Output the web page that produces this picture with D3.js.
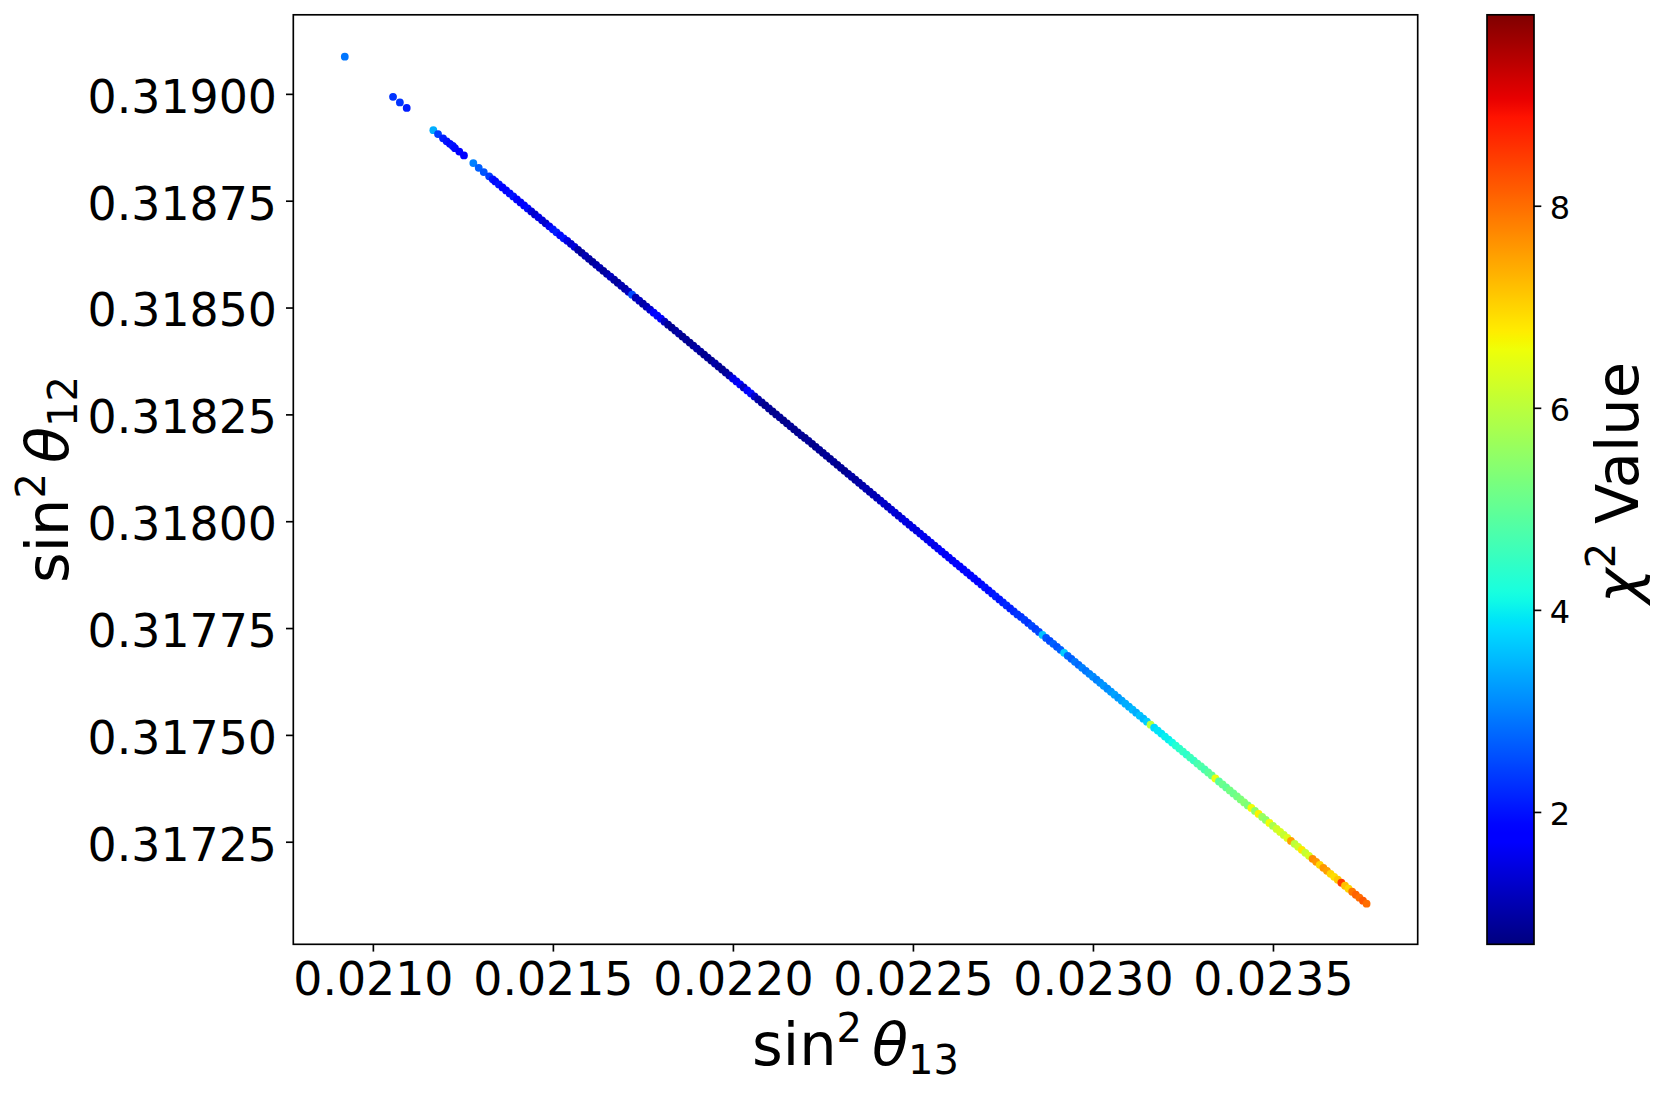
<!DOCTYPE html>
<html>
<meta charset="utf-8">
<head>
<title>chi2 scan</title>
<script src="https://d3js.org/d3.v7.min.js"></script>
<style>
body { margin: 0; background: #fff; }
text { font-family: "DejaVu Sans", sans-serif; }
</style>
</head>
<body>
<div id="plot"></div>
<script>

// values
var x13 = [
0.020922, 0.021056, 0.021075, 0.021094, 0.021168, 0.021181, 0.021195, 0.021205, 0.021214,
0.021222, 0.021228, 0.021240, 0.021253, 0.021279, 0.021294, 0.021308, 0.021323, 0.021333,
0.02134, 0.02135, 0.02136, 0.02137, 0.02138, 0.02139,
0.02140, 0.02141, 0.02142, 0.02143, 0.02144, 0.02145, 0.02146, 0.02147, 0.02148, 0.02149,
0.02150, 0.02151, 0.02152, 0.02153, 0.02154, 0.02155, 0.02156, 0.02157, 0.02158, 0.02159,
0.02160, 0.02161, 0.02162, 0.02163, 0.02164, 0.02165, 0.02166, 0.02167, 0.02168, 0.02169,
0.02170, 0.02171, 0.02172, 0.02173, 0.02174, 0.02175, 0.02176, 0.02177, 0.02178, 0.02179,
0.02180, 0.02181, 0.02182, 0.02183, 0.02184, 0.02185, 0.02186, 0.02187, 0.02188, 0.02189,
0.02190, 0.02191, 0.02192, 0.02193, 0.02194, 0.02195, 0.02196, 0.02197, 0.02198, 0.02199,
0.02200, 0.02201, 0.02202, 0.02203, 0.02204, 0.02205, 0.02206, 0.02207, 0.02208, 0.02209,
0.02210, 0.02211, 0.02212, 0.02213, 0.02214, 0.02215, 0.02216, 0.02217, 0.02218, 0.02219,
0.02220, 0.02221, 0.02222, 0.02223, 0.02224, 0.02225, 0.02226, 0.02227, 0.02228, 0.02229,
0.02230, 0.02231, 0.02232, 0.02233, 0.02234, 0.02235, 0.02236, 0.02237, 0.02238, 0.02239,
0.02240, 0.02241, 0.02242, 0.02243, 0.02244, 0.02245, 0.02246, 0.02247, 0.02248, 0.02249,
0.02250, 0.02251, 0.02252, 0.02253, 0.02254, 0.02255, 0.02256, 0.02257, 0.02258, 0.02259,
0.02260, 0.02261, 0.02262, 0.02263, 0.02264, 0.02265, 0.02266, 0.02267, 0.02268, 0.02269,
0.02270, 0.02271, 0.02272, 0.02273, 0.02274, 0.02275, 0.02276, 0.02277, 0.02278, 0.02279,
0.02280, 0.02281, 0.02282, 0.02283, 0.02284, 0.02285, 0.02286, 0.02287, 0.02288, 0.02289,
0.02290, 0.02291, 0.02292, 0.02293, 0.02294, 0.02295, 0.02296, 0.02297, 0.02298, 0.02299,
0.02300, 0.02301, 0.02302, 0.02303, 0.02304, 0.02305, 0.02306, 0.02307, 0.02308, 0.02309,
0.02310, 0.02311, 0.02312, 0.02313, 0.02314, 0.02315, 0.02316, 0.02317, 0.02318, 0.02319,
0.02320, 0.02321, 0.02322, 0.02323, 0.02324, 0.02325, 0.02326, 0.02327, 0.02328, 0.02329,
0.02330, 0.02331, 0.02332, 0.02333, 0.02334, 0.02335, 0.02336, 0.02337, 0.02338, 0.02339,
0.02340, 0.02341, 0.02342, 0.02343, 0.02344, 0.02345, 0.02346, 0.02347, 0.02348, 0.02349,
0.02350, 0.02351, 0.02352, 0.02353, 0.02354, 0.02355, 0.02356, 0.02357, 0.02358, 0.02359,
0.02360, 0.02361, 0.02362, 0.02363, 0.02364, 0.02365, 0.02366, 0.02367, 0.02368, 0.02369,
0.02370, 0.02371, 0.02372, 0.02373, 0.02374, 0.02375, 0.02376
];

var y12 = [
0.319087, 0.318993, 0.318980, 0.318967, 0.318915, 0.318906, 0.318896, 0.318889, 0.318883,
0.318878, 0.318873, 0.318865, 0.318856, 0.318838, 0.318827, 0.318817, 0.318807, 0.318800,
0.318795, 0.318788, 0.318781, 0.318774, 0.318767, 0.318760,
0.318753, 0.318746, 0.318739, 0.318732, 0.318725, 0.318718, 0.318711, 0.318704, 0.318697, 0.318690,
0.318683, 0.318676, 0.318669, 0.318662, 0.318656, 0.318649, 0.318642, 0.318635, 0.318628, 0.318621,
0.318614, 0.318607, 0.318600, 0.318593, 0.318586, 0.318579, 0.318572, 0.318565, 0.318558, 0.318551,
0.318544, 0.318537, 0.318530, 0.318523, 0.318516, 0.318509, 0.318502, 0.318495, 0.318488, 0.318481,
0.318474, 0.318467, 0.318460, 0.318453, 0.318446, 0.318439, 0.318432, 0.318425, 0.318418, 0.318411,
0.318404, 0.318397, 0.318390, 0.318383, 0.318376, 0.318369, 0.318362, 0.318355, 0.318348, 0.318341,
0.318334, 0.318327, 0.318320, 0.318313, 0.318306, 0.318299, 0.318292, 0.318285, 0.318278, 0.318271,
0.318264, 0.318257, 0.318250, 0.318243, 0.318236, 0.318229, 0.318222, 0.318215, 0.318208, 0.318201,
0.318195, 0.318188, 0.318181, 0.318174, 0.318167, 0.318160, 0.318153, 0.318146, 0.318139, 0.318132,
0.318125, 0.318118, 0.318111, 0.318104, 0.318097, 0.318090, 0.318083, 0.318076, 0.318069, 0.318062,
0.318055, 0.318048, 0.318041, 0.318034, 0.318027, 0.318020, 0.318013, 0.318006, 0.317999, 0.317992,
0.317985, 0.317978, 0.317971, 0.317964, 0.317957, 0.317950, 0.317943, 0.317936, 0.317929, 0.317922,
0.317915, 0.317908, 0.317901, 0.317894, 0.317887, 0.317880, 0.317873, 0.317866, 0.317859, 0.317852,
0.317845, 0.317838, 0.317831, 0.317824, 0.317817, 0.317810, 0.317803, 0.317796, 0.317789, 0.317782,
0.317776, 0.317769, 0.317762, 0.317755, 0.317748, 0.317741, 0.317734, 0.317727, 0.317720, 0.317713,
0.317706, 0.317699, 0.317692, 0.317685, 0.317678, 0.317671, 0.317664, 0.317657, 0.317650, 0.317643,
0.317636, 0.317629, 0.317622, 0.317615, 0.317608, 0.317601, 0.317594, 0.317587, 0.317580, 0.317573,
0.317566, 0.317559, 0.317552, 0.317545, 0.317538, 0.317531, 0.317524, 0.317517, 0.317510, 0.317503,
0.317496, 0.317489, 0.317482, 0.317475, 0.317468, 0.317461, 0.317454, 0.317447, 0.317440, 0.317433,
0.317426, 0.317419, 0.317412, 0.317405, 0.317398, 0.317391, 0.317384, 0.317377, 0.317370, 0.317363,
0.317356, 0.317349, 0.317342, 0.317335, 0.317329, 0.317322, 0.317315, 0.317308, 0.317301, 0.317294,
0.317287, 0.317280, 0.317273, 0.317266, 0.317259, 0.317252, 0.317245, 0.317238, 0.317231, 0.317224,
0.317217, 0.317210, 0.317203, 0.317196, 0.317189, 0.317182, 0.317175, 0.317168, 0.317161, 0.317154,
0.317147, 0.317140, 0.317133, 0.317126, 0.317119, 0.317112, 0.317105
];

var chi2 = [
2.9, 2.3, 2.3, 2.1, 3.4, 2.4, 2.1, 2.0, 1.9,
2.0, 1.9, 1.8, 1.7, 3.0, 2.7, 2.6, 2.4, 2.0,
1.9, 2.0, 1.8, 1.7, 1.9, 2.0,
1.7, 1.6, 1.8, 1.9, 1.4, 1.3, 1.5, 1.4, 1.3, 1.6,
2.0, 2.1, 1.9, 2.0, 1.5, 1.3, 1.4, 1.0, 0.9, 1.1,
1.0, 0.9, 1.0, 1.1, 0.9, 1.0, 1.2, 1.0, 0.9, 1.1,
1.0, 1.2, 2.5, 1.1, 1.2, 1.0, 1.1, 1.3, 1.8, 1.9,
1.7, 1.2, 0.9, 0.8, 0.9, 1.0, 0.8, 0.9, 0.8, 0.9,
1.0, 0.9, 0.8, 0.9, 0.8, 1.0, 0.9, 0.8, 0.9, 1.0,
1.5, 1.6, 1.8, 1.2, 1.7, 1.9, 1.3, 1.0, 0.9, 0.8,
0.9, 0.8, 0.8, 0.9, 0.8, 0.8, 0.9, 0.8, 0.8, 0.9,
0.8, 0.9, 0.8, 0.8, 0.9, 0.8, 0.9, 0.8, 0.9, 0.8,
0.9, 0.8, 0.9, 1.0, 0.9, 1.0, 1.0, 1.1, 1.0, 1.1,
1.1, 1.2, 1.3, 1.2, 1.3, 1.4, 1.3, 1.4, 1.5, 1.4,
1.5, 1.4, 1.5, 1.6, 1.5, 1.6, 1.5, 1.6, 1.7, 1.6,
1.7, 1.6, 1.8, 1.7, 1.8, 1.9, 1.8, 1.9, 1.8, 1.9,
2.0, 1.9, 2.0, 2.1, 2.0, 2.1, 2.2, 2.1, 2.2, 2.3,
2.3, 2.4, 2.3, 2.5, 2.4, 2.5, 3.6, 2.6, 2.5, 2.7,
2.6, 2.7, 3.7, 2.8, 2.7, 2.9, 2.8, 3.0, 2.9, 3.0,
3.1, 3.0, 3.1, 3.2, 3.1, 3.2, 3.3, 3.2, 3.3, 3.4,
3.4, 3.5, 3.4, 3.6, 3.5, 3.7, 6.0, 3.8, 3.9, 3.9,
4.0, 4.0, 4.1, 4.3, 4.4, 4.5, 4.4, 4.6, 4.5, 4.7,
4.8, 4.7, 4.9, 5.0, 6.5, 4.9, 5.1, 5.0, 5.2, 5.1,
5.2, 5.3, 5.4, 5.3, 6.6, 5.5, 6.7, 5.6, 5.5, 6.6,
5.8, 6.2, 6.3, 6.1, 6.4, 7.5, 6.0, 6.2, 6.8, 6.1,
6.3, 7.7, 7.6, 7.0, 7.6, 7.5, 7.0, 6.9, 7.1, 8.5,
7.2, 7.0, 7.9, 8.1, 8.0, 8.2, 8.0
];

var xTicks = [0.0210, 0.0215, 0.0220, 0.0225, 0.0230, 0.0235];
var yTicks = [0.31725, 0.31750, 0.31775, 0.31800, 0.31825, 0.31850, 0.31875, 0.31900];
var cTicks = [2, 4, 6, 8];
var xDomain = [0.020779, 0.023902];
var yDomain = [0.317010, 0.319185];
var cDomain = [0.69, 9.89];

var W = 1661, H = 1093;
var margin = { top: 14.8, left: 293.3 };
var width = 1124.4, height = 929.5;
var cbar = { x: 1487, w: 47 };
var tickLen = 7.3, lw = 1.67;
var tickFont = 45.8, cFont = 32, labelFont = 59, scriptFont = 40;

// matplotlib "jet", one linear scale per channel
var jetR = d3.scaleLinear().domain([0, 0.35, 0.66, 0.89, 1]).range([0, 0, 1, 1, 0.5]).clamp(true);
var jetG = d3.scaleLinear().domain([0, 0.125, 0.375, 0.64, 0.91, 1]).range([0, 0, 1, 1, 0, 0]).clamp(true);
var jetB = d3.scaleLinear().domain([0, 0.11, 0.34, 0.65, 1]).range([0.5, 1, 1, 0, 0]).clamp(true);
var norm = d3.scaleLinear().domain(cDomain).range([0, 1]).clamp(true);
function jet(t){
	return d3.rgb(255 * jetR(t), 255 * jetG(t), 255 * jetB(t)).formatHex();
}
function colorOf(v){ return jet(norm(v)); }

var xScale = d3.scaleLinear().domain(xDomain).range([0, width]);
var yScale = d3.scaleLinear().domain(yDomain).range([height, 0]);
var cScale = d3.scaleLinear().domain(cDomain).range([height, 0]);

var svg = d3.select("#plot").append("svg")
	.attr("width", W)
	.attr("height", H);

var plot = svg.append("g")
	.attr("transform", "translate(" + margin.left + "," + margin.top + ")");

// points
plot.append("g")
	.selectAll("circle")
	.data(d3.range(x13.length))
	.enter()
	.append("circle")
	.attr("cx", function(i){ return xScale(x13[i]); })
	.attr("cy", function(i){ return yScale(y12[i]); })
	.attr("r", 3.9)
	.attr("fill", function(i){ return colorOf(chi2[i]); });

// axes
var xAxis = d3.axisBottom(xScale).tickValues(xTicks).tickFormat(d3.format(".4f"))
	.tickSize(tickLen).tickPadding(10.5);
var yAxis = d3.axisLeft(yScale).tickValues(yTicks).tickFormat(d3.format(".5f"))
	.tickSize(tickLen).tickPadding(9);

function styleAxis(g, fs, dy){
	g.select(".domain").remove();
	g.selectAll(".tick line").attr("stroke", "#000").attr("stroke-width", lw);
	g.selectAll(".tick text")
		.attr("fill", "#000")
		.style("font-size", fs + "px")
		.style("font-family", "DejaVu Sans");
	if (dy) g.selectAll(".tick text").attr("dy", dy);
}

plot.append("g")
	.attr("transform", "translate(0," + height + ")")
	.call(xAxis)
	.call(styleAxis, tickFont, null);

plot.append("g")
	.call(yAxis)
	.call(styleAxis, tickFont, "0.40em");

plot.append("rect")
	.attr("width", width)
	.attr("height", height)
	.attr("fill", "none")
	.attr("stroke", "#000")
	.attr("stroke-width", lw);

// colorbar
var grad = svg.append("defs").append("linearGradient")
	.attr("id", "jetgrad")
	.attr("x1", 0).attr("y1", 1).attr("x2", 0).attr("y2", 0);
grad.selectAll("stop")
	.data(d3.range(0, 1.0001, 0.01))
	.enter()
	.append("stop")
	.attr("offset", function(t){ return t; })
	.attr("stop-color", function(t){ return jet(t); });

var cb = svg.append("g")
	.attr("transform", "translate(" + cbar.x + "," + margin.top + ")");

cb.append("rect")
	.attr("width", cbar.w)
	.attr("height", height)
	.attr("fill", "url(#jetgrad)")
	.attr("stroke", "#000")
	.attr("stroke-width", lw);

cb.append("g")
	.attr("transform", "translate(" + cbar.w + ",0)")
	.call(d3.axisRight(cScale).tickValues(cTicks).tickFormat(d3.format("d")).tickSize(tickLen).tickPadding(8.5))
	.call(styleAxis, cFont, "0.40em");

// math-like labels: pieces with sup / sub / italic
function mathLabel(g, x, y, rot, parts){
	var t = g.append("text")
		.attr("text-anchor", "middle")
		.attr("transform", "translate(" + x + "," + y + ") rotate(" + rot + ")")
		.style("font-size", labelFont + "px")
		.attr("fill", "#000");
	var shift = 0;
	parts.forEach(function(p){
		var target = p.sup ? -23 : (p.sub ? 9 : 0);
		var ts = t.append("tspan")
			.attr("dy", target - shift)
			.text(p.t);
		if (p.dx) ts.attr("dx", p.dx);
		if (p.sup || p.sub) ts.style("font-size", scriptFont + "px");
		if (p.it) ts.style("font-style", "italic");
		shift = target;
	});
}

mathLabel(svg, margin.left + width / 2, 1065, 0, [
	{ t: "sin" }, { t: "2", sup: true }, { t: "\u03b8", it: true, dx: 10 }, { t: "13", sub: true }
]);
mathLabel(svg, 68, margin.top + height / 2, -90, [
	{ t: "sin" }, { t: "2", sup: true }, { t: "\u03b8", it: true, dx: 10 }, { t: "12", sub: true }
]);
mathLabel(svg, 1638, margin.top + height / 2 + 3, -90, [
	{ t: "\u03c7", it: true }, { t: "2", sup: true }, { t: "\u00a0Value" }
]);

</script>
</body>
</html>
